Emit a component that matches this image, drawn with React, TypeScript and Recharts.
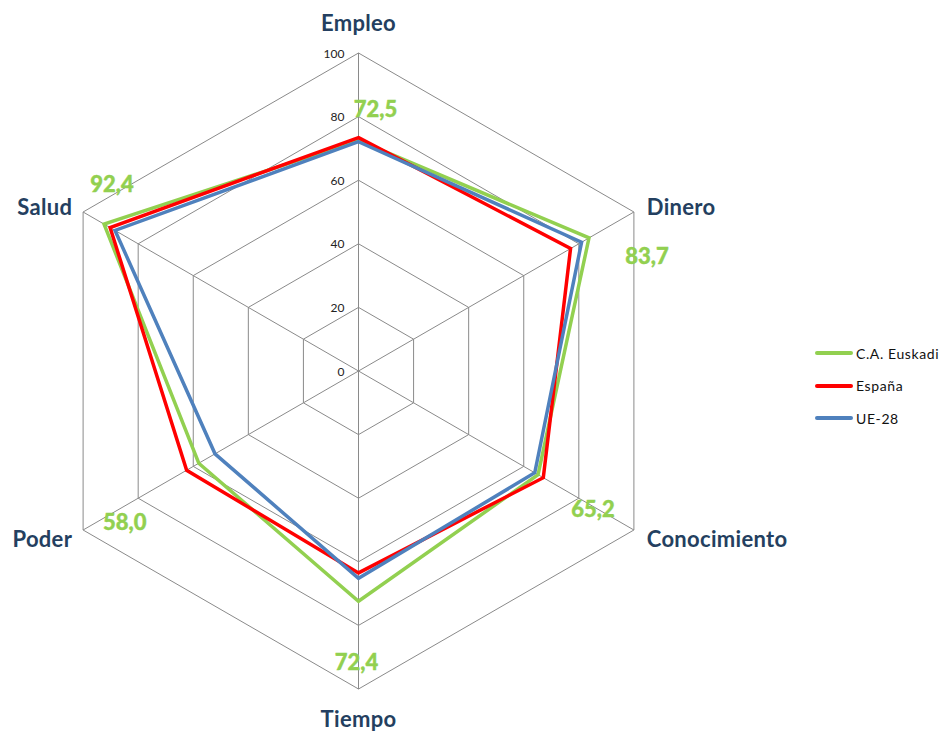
import React from 'react';
import { RadarChart, Radar, PolarGrid, PolarAngleAxis, PolarRadiusAxis, Legend } from 'recharts';

const categories = ['Empleo', 'Dinero', 'Conocimiento', 'Tiempo', 'Poder', 'Salud'];
const euskadi = [72.5, 83.7, 65.2, 72.4, 58.0, 92.4];
const espana = [73.4, 77.0, 67.1, 63.5, 62.4, 90.2];
const ue28 = [72.1, 81.0, 64.0, 65.2, 52.1, 88.4];
const radiusTicks = [0, 20, 40, 60, 80, 100];

const seriesList = [
  { key: 'euskadi', name: 'C.A. Euskadi', color: '#92D050' },
  { key: 'espana', name: 'España', color: '#FF0000' },
  { key: 'ue28', name: 'UE-28', color: '#4F81BD' },
];

// where Excel put the green data labels, relative to each vertex
const labelOffsets = [[17, -32], [58, 18], [55, 34], [-2, 60], [-74, 58], [8, -41]];

const data = categories.map((name, i) => ({
  name,
  euskadi: euskadi[i],
  espana: espana[i],
  ue28: ue28[i],
}));

const FONT = 'Lato, "Open Sans", sans-serif';

const AngleTick = (props: any) => {
  const { x, y, payload, textAnchor } = props;
  let dx = 0;
  let dy = 0;
  if (textAnchor === 'middle') {
    dy = y < 371 ? -23 : 21;
  } else {
    dx = textAnchor === 'start' ? 6 : -4;
    dy = y < 371 ? -2 : 4;
  }
  return (
    <text x={x + dx} y={y + dy} textAnchor={textAnchor} dominantBaseline="central"
      fontFamily={FONT} fontWeight={700} fontSize={22} letterSpacing={0.3} fill="#243F60">
      {payload.value}
    </text>
  );
};

const RadiusTick = (props: any) => {
  const { x, y, payload } = props;
  return (
    <text x={x - 14} y={y} textAnchor="end" dominantBaseline="central"
      fontFamily={FONT} fontSize={12} fill="#222">
      {payload.value}
    </text>
  );
};

const GreenLabel = (props: any) => {
  const { cx, cy, index } = props;
  const [ox, oy] = labelOffsets[index];
  return (
    <text key={`lbl-${index}`} x={cx + ox} y={cy + oy} textAnchor="middle" dominantBaseline="central"
      fontFamily={FONT} fontWeight={900} fontSize={22} fill="#92D050" stroke="#92D050" strokeWidth={0.4}>
      {euskadi[index].toFixed(1).replace('.', ',')}
    </text>
  );
};

const LegendContent = () => (
  <div style={{ fontFamily: FONT, fontSize: 14, color: '#111' }}>
    {seriesList.map((s) => (
      <div key={s.key} style={{ display: 'flex', alignItems: 'center', height: 32.5 }}>
        <span style={{ display: 'inline-block', width: 38, height: 4, background: s.color, borderRadius: 2, marginRight: 3 }} />
        <span style={{ letterSpacing: 0.6 }}>{s.name}</span>
      </div>
    ))}
  </div>
);

export default function App() {
  return (
    <div style={{ position: 'absolute', left: 0, top: 0, background: '#fff' }}>
      <RadarChart width={945} height={731} data={data} cx={358.5} cy={371} outerRadius={318}
        margin={{ top: 0, right: 0, bottom: 0, left: 0 }}>
        <PolarGrid gridType="polygon" stroke="#8A8A8A" strokeWidth={1} />
        <PolarAngleAxis dataKey="name" tick={<AngleTick />} tickLine={false} axisLine={false} />
        <PolarRadiusAxis angle={90} domain={[0, 100]} ticks={radiusTicks} tick={<RadiusTick />}
          axisLine={false} tickLine={false} />
        <Radar name="C.A. Euskadi" dataKey="euskadi" stroke="#92D050" strokeWidth={3.5} fill="none"
          fillOpacity={0} dot={GreenLabel} isAnimationActive={false} />
        <Radar name="España" dataKey="espana" stroke="#FF0000" strokeWidth={3.5} fill="none"
          fillOpacity={0} dot={false} isAnimationActive={false} />
        <Radar name="UE-28" dataKey="ue28" stroke="#4F81BD" strokeWidth={3.5} fill="none"
          fillOpacity={0} dot={false} isAnimationActive={false} />
        <Legend content={<LegendContent />} wrapperStyle={{ position: 'absolute', left: 815, top: 337, width: 130 }} />
      </RadarChart>
    </div>
  );
}
